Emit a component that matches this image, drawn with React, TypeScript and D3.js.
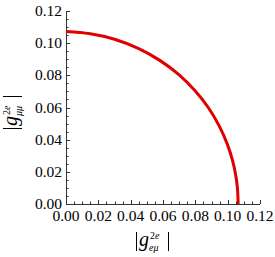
import React from "react";
import * as d3 from "d3";

const curveX = [0, 0.015, 0.03, 0.045, 0.058, 0.07, 0.08, 0.088, 0.095, 0.1, 0.103, 0.105, 0.106, 0.1065];
const curveY = [0.1072, 0.1058, 0.1024, 0.0966, 0.0893, 0.0803, 0.0703, 0.06, 0.0481, 0.0366, 0.0271, 0.0178, 0.0103, 0];
const majorTicks = [0, 0.02, 0.04, 0.06, 0.08, 0.1, 0.12];
const tickLabels = ["0.00", "0.02", "0.04", "0.06", "0.08", "0.10", "0.12"];
const minorTicks = [0.005, 0.01, 0.015, 0.025, 0.03, 0.035, 0.045, 0.05, 0.055, 0.065, 0.07, 0.075, 0.085, 0.09, 0.095, 0.105, 0.11, 0.115];

const W = 275;
const H = 257;
const FONT = "'Liberation Serif', 'Times New Roman', serif";

function GLabel({ sub, transform }: { sub: string; transform: string }) {
  return (
    <g transform={transform} fontFamily={FONT} fill="#000">
      <line x1={0.5} x2={0.5} y1={0} y2={19} stroke="#000" strokeWidth={1} />
      <text x={3} y={14} fontSize={20} fontStyle="italic">g</text>
      <text x={14} y={6.5} fontSize={10}>2<tspan fontStyle="italic">e</tspan></text>
      <text x={13} y={18.5} fontSize={10} fontStyle="italic">{sub}</text>
      <line x1={32.5} x2={32.5} y1={0} y2={19} stroke="#000" strokeWidth={1} />
    </g>
  );
}

export default function App() {
  const x = d3.scaleLinear().domain([0, 0.12]).range([66, 260]);
  const y = d3.scaleLinear().domain([0, 0.12]).range([204, 11]);
  const pts: [number, number][] = curveX.map((v, i) => [v, curveY[i]]);
  const line = d3
    .line<[number, number]>()
    .x((d) => x(d[0]))
    .y((d) => y(d[1]))
    .curve(d3.curveCatmullRom);
  const axisColor = "#333";
  return (
    <svg width={W} height={H} style={{ position: "absolute", left: 0, top: 0 }}>
      <rect width={W} height={H} fill="#fff" />
      <line x1={x(0)} x2={x(0.12)} y1={y(0) + 0.5} y2={y(0) + 0.5} stroke={axisColor} strokeWidth={1} />
      <line x1={x(0) + 0.5} x2={x(0) + 0.5} y1={y(0)} y2={y(0.12)} stroke={axisColor} strokeWidth={1} />
      {majorTicks.map((t, i) => (
        <g key={"mx" + i}>
          <line x1={Math.round(x(t)) + 0.5} x2={Math.round(x(t)) + 0.5} y1={y(0)} y2={y(0) - 4} stroke={axisColor} />
          <line x1={x(0)} x2={x(0) + 4} y1={Math.round(y(t)) + 0.5} y2={Math.round(y(t)) + 0.5} stroke={axisColor} />
          <text x={x(t)} y={221} textAnchor="middle" fontFamily={FONT} fontSize={15.5} fill="#000">
            {tickLabels[i]}
          </text>
          <text x={62} y={y(t) + 5} textAnchor="end" fontFamily={FONT} fontSize={15.5} fill="#000">
            {tickLabels[i]}
          </text>
        </g>
      ))}
      {minorTicks.map((t, i) => (
        <g key={"mn" + i}>
          <line x1={Math.round(x(t)) + 0.5} x2={Math.round(x(t)) + 0.5} y1={y(0)} y2={y(0) - 2.5} stroke={axisColor} />
          <line x1={x(0)} x2={x(0) + 2.5} y1={Math.round(y(t)) + 0.5} y2={Math.round(y(t)) + 0.5} stroke={axisColor} />
        </g>
      ))}
      <path d={line(pts) || ""} fill="none" stroke="#e00000" strokeWidth={3} />
      <GLabel sub="eμ" transform="translate(136,232)" />
      <GLabel sub="μμ" transform="translate(3,129) rotate(-90)" />
    </svg>
  );
}
